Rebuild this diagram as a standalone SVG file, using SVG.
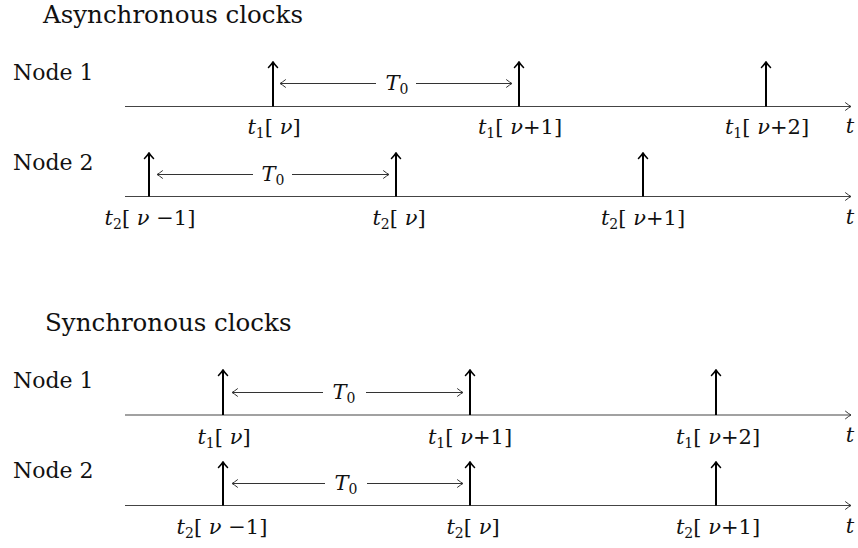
<svg xmlns="http://www.w3.org/2000/svg" width="858" height="548" viewBox="0 0 858 548">
<defs>
<marker id="thin" viewBox="-7 -5 8 10" markerWidth="8" markerHeight="10" refX="0" refY="0" markerUnits="userSpaceOnUse" orient="auto-start-reverse">
<path d="M -5.5 -3.8 Q -2 -1 0 0 Q -2 1 -5.5 3.8" fill="none" stroke="#333" stroke-width="1" stroke-linecap="round"/>
</marker>
<marker id="thick" viewBox="-7 -6 8 12" markerWidth="8" markerHeight="12" refX="0" refY="0" markerUnits="userSpaceOnUse" orient="auto">
<path d="M -5.5 -4.5 Q -2 -1.2 0 0 Q -2 1.2 -5.5 4.5" fill="none" stroke="#000" stroke-width="1.5" stroke-linecap="round"/>
</marker>
</defs>
<style>
.head{font-family:"DejaVu Serif","Liberation Serif",serif;font-size:24.5px;fill:#111}
.node{font-family:"DejaVu Serif","Liberation Serif",serif;font-size:22px;fill:#111}
.lab{font-family:"DejaVu Serif","Liberation Serif",serif;font-size:21px;fill:#111;text-anchor:middle}
.i{font-style:italic}
.sub{font-size:14px}
.axis{stroke:#444;stroke-width:1.2;fill:none;marker-end:url(#thin)}
.imp{stroke:#000;stroke-width:2;fill:none;marker-end:url(#thick)}
.per{stroke:#333;stroke-width:1;fill:none}
.ps{marker-start:url(#thin)}
.pe{marker-end:url(#thin)}
</style>
<rect width="858" height="548" fill="#fff"/>

<text class="head" x="43" y="23">Asynchronous clocks</text>
<text class="head" x="45" y="331">Synchronous clocks</text>

<g id="async-node1">
<text class="node" x="13" y="80">Node 1</text>
<line class="axis" x1="125" y1="106.5" x2="851" y2="106.5"/>
<line class="imp" x1="273" y1="106.5" x2="273" y2="62"/>
<line class="imp" x1="519" y1="106.5" x2="519" y2="62"/>
<line class="imp" x1="766" y1="106.5" x2="766" y2="62"/>
<text class="lab" x="274" y="134"><tspan class="i">t</tspan><tspan class="sub" dy="4">1</tspan><tspan dy="-4">[</tspan><tspan class="i"> ν</tspan>]</text>
<text class="lab" x="520" y="134"><tspan class="i">t</tspan><tspan class="sub" dy="4">1</tspan><tspan dy="-4">[</tspan><tspan class="i"> ν</tspan>+1]</text>
<text class="lab" x="767" y="134"><tspan class="i">t</tspan><tspan class="sub" dy="4">1</tspan><tspan dy="-4">[</tspan><tspan class="i"> ν</tspan>+2]</text>
<text class="lab i" x="850" y="133">t</text>
</g>

<g id="async-node2">
<text class="node" x="13" y="170">Node 2</text>
<line class="axis" x1="125" y1="196.5" x2="851" y2="196.5"/>
<line class="imp" x1="149" y1="196.5" x2="149" y2="153"/>
<line class="imp" x1="396" y1="196.5" x2="396" y2="153"/>
<line class="imp" x1="643" y1="196.5" x2="643" y2="153"/>
<text class="lab" x="150" y="225"><tspan class="i">t</tspan><tspan class="sub" dy="4">2</tspan><tspan dy="-4">[</tspan><tspan class="i"> ν</tspan> −1]</text>
<text class="lab" x="399" y="225"><tspan class="i">t</tspan><tspan class="sub" dy="4">2</tspan><tspan dy="-4">[</tspan><tspan class="i"> ν</tspan>]</text>
<text class="lab" x="643" y="225"><tspan class="i">t</tspan><tspan class="sub" dy="4">2</tspan><tspan dy="-4">[</tspan><tspan class="i"> ν</tspan>+1]</text>
<text class="lab i" x="850" y="224">t</text>
</g>

<g id="sync-node1">
<text class="node" x="13" y="388">Node 1</text>
<line class="axis" x1="125" y1="415" x2="851" y2="415"/>
<line class="imp" x1="223" y1="415" x2="223" y2="370"/>
<line class="imp" x1="470" y1="415" x2="470" y2="370"/>
<line class="imp" x1="716" y1="415" x2="716" y2="370"/>
<text class="lab" x="224" y="443.5"><tspan class="i">t</tspan><tspan class="sub" dy="4">1</tspan><tspan dy="-4">[</tspan><tspan class="i"> ν</tspan>]</text>
<text class="lab" x="470" y="443.5"><tspan class="i">t</tspan><tspan class="sub" dy="4">1</tspan><tspan dy="-4">[</tspan><tspan class="i"> ν</tspan>+1]</text>
<text class="lab" x="718" y="443.5"><tspan class="i">t</tspan><tspan class="sub" dy="4">1</tspan><tspan dy="-4">[</tspan><tspan class="i"> ν</tspan>+2]</text>
<text class="lab i" x="850" y="442">t</text>
</g>

<g id="sync-node2">
<text class="node" x="13" y="478">Node 2</text>
<line class="axis" x1="125" y1="505.5" x2="851" y2="505.5"/>
<line class="imp" x1="223" y1="505.5" x2="223" y2="462"/>
<line class="imp" x1="470" y1="505.5" x2="470" y2="462"/>
<line class="imp" x1="716" y1="505.5" x2="716" y2="462"/>
<text class="lab" x="222" y="534"><tspan class="i">t</tspan><tspan class="sub" dy="4">2</tspan><tspan dy="-4">[</tspan><tspan class="i"> ν</tspan> −1]</text>
<text class="lab" x="473" y="534"><tspan class="i">t</tspan><tspan class="sub" dy="4">2</tspan><tspan dy="-4">[</tspan><tspan class="i"> ν</tspan>]</text>
<text class="lab" x="718" y="534"><tspan class="i">t</tspan><tspan class="sub" dy="4">2</tspan><tspan dy="-4">[</tspan><tspan class="i"> ν</tspan>+1]</text>
<text class="lab i" x="850" y="533">t</text>
</g>

<g id="connectors">
<line class="per ps" x1="280" y1="83.5" x2="376" y2="83.5"/>
<line class="per pe" x1="416" y1="83.5" x2="512" y2="83.5"/>
<text class="lab" x="397" y="89.5"><tspan class="i">T</tspan><tspan class="sub" dy="4">0</tspan></text>
<line class="per ps" x1="157" y1="174.5" x2="253" y2="174.5"/>
<line class="per pe" x1="292" y1="174.5" x2="389" y2="174.5"/>
<text class="lab" x="273" y="180.5"><tspan class="i">T</tspan><tspan class="sub" dy="4">0</tspan></text>
<line class="per ps" x1="232" y1="392.5" x2="323" y2="392.5"/>
<line class="per pe" x1="366" y1="392.5" x2="463" y2="392.5"/>
<text class="lab" x="344" y="398.5"><tspan class="i">T</tspan><tspan class="sub" dy="4">0</tspan></text>
<line class="per ps" x1="232" y1="483.5" x2="325" y2="483.5"/>
<line class="per pe" x1="367" y1="483.5" x2="463" y2="483.5"/>
<text class="lab" x="346" y="489.5"><tspan class="i">T</tspan><tspan class="sub" dy="4">0</tspan></text>
</g>
</svg>
